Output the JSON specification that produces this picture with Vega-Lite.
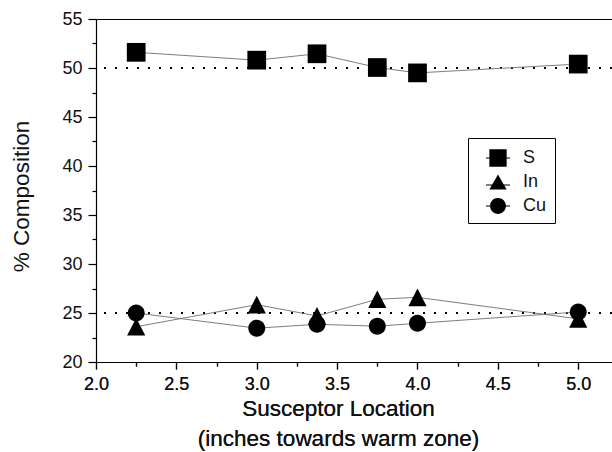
{
  "$schema": "https://vega.github.io/schema/vega-lite/v6.json",
  "width": 516,
  "height": 343,
  "autosize": {"type": "none"},
  "padding": {"left": 96, "top": 19, "right": 0, "bottom": 90},
  "background": "white",
  "config": {
    "view": {"stroke": null},
    "axis": {
      "domainColor": "black",
      "domainWidth": 1.2,
      "tickColor": "black",
      "tickWidth": 1.2,
      "labelFont": "Liberation Sans",
      "labelFontSize": 18,
      "labelColor": "#111111",
      "titleFont": "Liberation Sans",
      "titleFontSize": 22.5,
      "titleFontWeight": "normal",
      "titleColor": "#111111",
      "grid": false,
      "labelOverlap": false,
      "labelFlush": false,
      "labelBound": false
    },
    "axisBottom": {
      "tickSize": {"condition": {"test": "datum.value * 2 % 1 === 0", "value": 7}, "value": 4},
      "labelExpr": "datum.value * 2 % 1 === 0 ? format(datum.value, '.1f') : ''",
      "labelPadding": 6,
      "titleX": 242,
      "titleY": 53,
      "titleAlign": "center",
      "titleBaseline": "alphabetic",
      "titleLineHeight": 30
    },
    "axisLeft": {
      "tickSize": {"condition": {"test": "datum.value % 5 === 0", "value": 8}, "value": 4},
      "labelExpr": "datum.value % 5 === 0 ? format(datum.value, 'd') : ''",
      "labelPadding": 6,
      "titleX": -68,
      "titleY": 177,
      "titleAngle": 270,
      "titleAlign": "center",
      "titleBaseline": "alphabetic"
    },
    "axisTop": {"labels": false, "ticks": false},
    "legend": {
      "orient": "none",
      "legendX": 372,
      "legendY": 119,
      "strokeColor": "black",
      "strokeWidth": 1,
      "padding": 8,
      "symbolOffset": 10,
      "labelOffset": 13,
      "labelFont": "Liberation Sans",
      "labelFontSize": 18,
      "labelColor": "#111111",
      "rowPadding": 3,
      "symbolSize": 576,
      "symbolStrokeWidth": 0,
      "symbolFillColor": "black"
    }
  },
  "datasets": {
    "comp": [
      {"location": 2.25, "pct": 51.6, "element": "S"},
      {"location": 3.0, "pct": 50.8, "element": "S"},
      {"location": 3.375, "pct": 51.45, "element": "S"},
      {"location": 3.75, "pct": 50.05, "element": "S"},
      {"location": 4.0, "pct": 49.5, "element": "S"},
      {"location": 5.0, "pct": 50.4, "element": "S"},
      {"location": 2.25, "pct": 23.6, "element": "In"},
      {"location": 3.0, "pct": 25.85, "element": "In"},
      {"location": 3.375, "pct": 24.7, "element": "In"},
      {"location": 3.75, "pct": 26.4, "element": "In"},
      {"location": 4.0, "pct": 26.6, "element": "In"},
      {"location": 5.0, "pct": 24.4, "element": "In"},
      {"location": 2.25, "pct": 25.0, "element": "Cu"},
      {"location": 3.0, "pct": 23.45, "element": "Cu"},
      {"location": 3.375, "pct": 23.85, "element": "Cu"},
      {"location": 3.75, "pct": 23.65, "element": "Cu"},
      {"location": 4.0, "pct": 23.95, "element": "Cu"},
      {"location": 5.0, "pct": 25.1, "element": "Cu"}
    ],
    "ref": [{"level": 50}, {"level": 25}]
  },
  "resolve": {"scale": {"shape": "independent"}},
  "layer": [
    {
      "data": {"name": "ref"},
      "mark": {"type": "rule", "color": "black", "strokeWidth": 2, "strokeDash": [2, 9], "strokeCap": "butt"},
      "encoding": {
        "y": {
          "field": "level", "type": "quantitative",
          "scale": {"domain": [20, 55], "nice": false, "zero": false},
          "axis": {"title": "% Composition", "values": [20, 22.5, 25, 27.5, 30, 32.5, 35, 37.5, 40, 42.5, 45, 47.5, 50, 52.5, 55]}
        }
      }
    },
    {
      "data": {"name": "comp"},
      "mark": {"type": "line", "color": "#6e6e6e", "strokeWidth": 0.9},
      "encoding": {
        "x": {
          "field": "location", "type": "quantitative",
          "scale": {"domain": [2, 5.21], "nice": false, "zero": false},
          "axis": {"orient": "top", "title": null, "labels": false, "ticks": false}
        },
        "y": {
          "field": "pct", "type": "quantitative",
          "scale": {"domain": [20, 55], "nice": false, "zero": false},
          "axis": {"title": "% Composition", "values": [20, 22.5, 25, 27.5, 30, 32.5, 35, 37.5, 40, 42.5, 45, 47.5, 50, 52.5, 55]}
        },
        "detail": {"field": "element", "type": "nominal"}
      }
    },
    {
      "data": {"name": "comp"},
      "mark": {"type": "point", "filled": true, "opacity": 1, "color": "black", "size": 49},
      "encoding": {
        "x": {
          "field": "location", "type": "quantitative",
          "scale": {"domain": [2, 5.21], "nice": false, "zero": false},
          "axis": {
            "orient": "bottom",
            "title": ["Susceptor Location", "(inches towards warm zone)"],
            "values": [2, 2.25, 2.5, 2.75, 3, 3.25, 3.5, 3.75, 4, 4.25, 4.5, 4.75, 5]
          }
        },
        "y": {
          "field": "pct", "type": "quantitative",
          "scale": {"domain": [20, 55], "nice": false, "zero": false},
          "axis": {"title": "% Composition", "values": [20, 22.5, 25, 27.5, 30, 32.5, 35, 37.5, 40, 42.5, 45, 47.5, 50, 52.5, 55]}
        },
        "shape": {
          "field": "element", "type": "nominal",
          "scale": {
            "domain": ["S", "In", "Cu"],
            "range": [
              "M-0.72,-0.72H0.72V0.72H-0.72Z M-1,-0.04H-0.7V0.04H-1Z M0.7,-0.04H1V0.04H0.7Z",
              "M0,-0.62L0.72,0.62L-0.72,0.62Z M-1,0.21H-0.48V0.29H-1Z M0.48,0.21H1V0.29H0.48Z",
              "M0.66,0A0.66,0.66 0 1,1 -0.66,0A0.66,0.66 0 1,1 0.66,0Z M-1,-0.04H-0.64V0.04H-1Z M0.64,-0.04H1V0.04H0.64Z"
            ]
          },
          "legend": {"title": null}
        }
      }
    },
    {
      "data": {"name": "comp"},
      "mark": {"type": "point", "filled": true, "opacity": 1, "color": "black", "size": 676},
      "encoding": {
        "x": {
          "field": "location", "type": "quantitative",
          "scale": {"domain": [2, 5.21], "nice": false, "zero": false},
          "axis": {
            "orient": "bottom",
            "title": ["Susceptor Location", "(inches towards warm zone)"],
            "values": [2, 2.25, 2.5, 2.75, 3, 3.25, 3.5, 3.75, 4, 4.25, 4.5, 4.75, 5]
          }
        },
        "y": {
          "field": "pct", "type": "quantitative",
          "scale": {"domain": [20, 55], "nice": false, "zero": false},
          "axis": {"title": "% Composition", "values": [20, 22.5, 25, 27.5, 30, 32.5, 35, 37.5, 40, 42.5, 45, 47.5, 50, 52.5, 55]}
        },
        "shape": {
          "field": "element", "type": "nominal",
          "scale": {
            "domain": ["S", "In", "Cu"],
            "range": [
              "M-0.72,-0.72H0.72V0.72H-0.72Z",
              "M0,-0.68L0.7,0.68L-0.7,0.68Z",
              "M0.65,0A0.65,0.65 0 1,1 -0.65,0A0.65,0.65 0 1,1 0.65,0Z"
            ]
          },
          "legend": null
        }
      }
    }
  ]
}
